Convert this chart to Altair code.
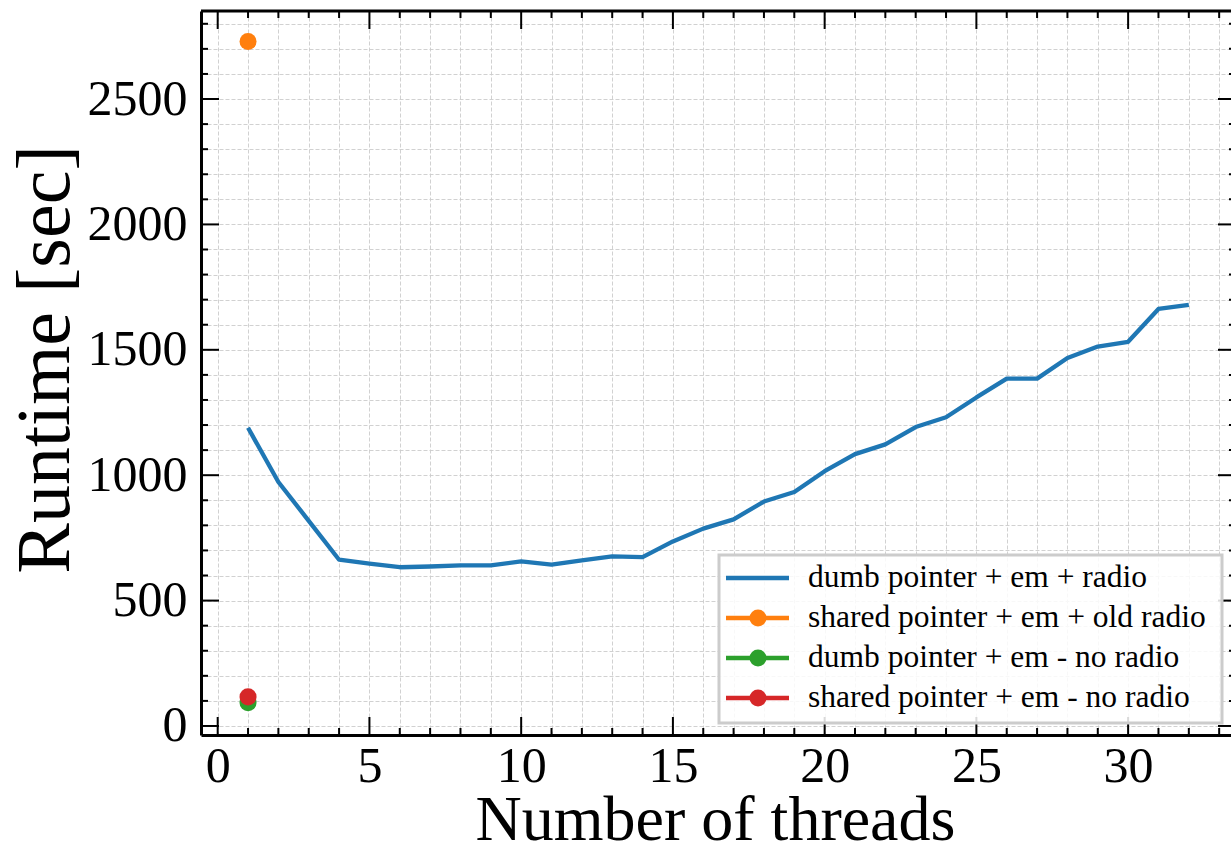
import altair as alt
import pandas as pd

# ---------------- data ----------------
threads = list(range(1, 33))
runtime_dumb_radio = [1189, 973, 818, 663, 647, 633, 636, 640, 640, 656,
                      643, 660, 676, 673, 736, 787, 824, 895, 933, 1016,
                      1084, 1123, 1192, 1231, 1310, 1385, 1385, 1467, 1513, 1532,
                      1663, 1679]

single_threads = [1]
runtime_shared_old_radio = [2729]
runtime_dumb_no_radio = [93]
runtime_shared_no_radio = [116]

series_names = ["dumb pointer + em + radio",
                "shared pointer + em + old radio",
                "dumb pointer + em - no radio",
                "shared pointer + em - no radio"]
series_colors = ["#1f77b4", "#ff7f0e", "#2ca02c", "#d62728"]
series_marker = [False, True, True, True]

x_major = [0, 5, 10, 15, 20, 25, 30]
x_minor = [v for v in range(0, 34) if v % 5 != 0]
y_major = [0, 500, 1000, 1500, 2000, 2500]
y_minor = [v for v in range(0, 2900, 100) if v % 500 != 0]

# ---------------- layout constants ----------------
W, H = 1030, 724
FONT = "Liberation Serif"
x_domain = [-0.55, 33.39]
y_domain = [-36, 2851]

xscale = alt.Scale(domain=x_domain, nice=False, zero=False)
yscale = alt.Scale(domain=y_domain, nice=False, zero=False)

xaxis = alt.Axis(values=list(range(0, 34)),
                 labelExpr="datum.value % 5 === 0 ? datum.label : ''",
                 format="d", grid=True, ticks=False, labelOverlap=False,
                 labelFlush=False, labelPadding=6, labelFontSize=50,
                 title="Number of threads", titleFontSize=64,
                 titleBaseline="alphabetic", titleY=104, titleX=514)
yaxis = alt.Axis(values=list(range(0, 2900, 100)),
                 labelExpr="datum.value % 500 === 0 ? datum.label : ''",
                 format="d", grid=True, ticks=False, labelOverlap=False,
                 labelFlush=False, labelPadding=14, labelFontSize=50,
                 title="Runtime [sec]", titleFontSize=76,
                 titleBaseline="alphabetic", titleX=-133, titleY=348,
                 titleAlign="center", titleAngle=270)

X = alt.X("x:Q", scale=xscale, axis=xaxis)
Y = alt.Y("y:Q", scale=yscale, axis=yaxis)

# ---------------- data layers ----------------
df_line = pd.DataFrame({"x": threads, "y": runtime_dumb_radio})
line = alt.Chart(df_line).mark_line(color=series_colors[0], strokeWidth=4.3,
                                    strokeJoin="round").encode(x=X, y=Y)

def point_layer(xs, ys, color):
    d = pd.DataFrame({"x": xs, "y": ys})
    return alt.Chart(d).mark_circle(color=color, size=290, opacity=1).encode(x=X, y=Y)

p_orange = point_layer(single_threads, runtime_shared_old_radio, series_colors[1])
p_green = point_layer(single_threads, runtime_dumb_no_radio, series_colors[2])
p_red = point_layer(single_threads, runtime_shared_no_radio, series_colors[3])

# ---------------- inward ticks and spines ----------------
def xticks(vals, length):
    d = pd.DataFrame({"x": vals})
    bottom = alt.Chart(d).mark_rule(color="black", strokeWidth=2).encode(
        x=X, y=alt.value(H - length), y2=alt.value(H))
    top = alt.Chart(d).mark_rule(color="black", strokeWidth=2).encode(
        x=X, y=alt.value(0), y2=alt.value(length))
    return [bottom, top]

def yticks(vals, length):
    d = pd.DataFrame({"y": vals})
    left = alt.Chart(d).mark_rule(color="black", strokeWidth=2).encode(
        y=Y, x=alt.value(0), x2=alt.value(length))
    right = alt.Chart(d).mark_rule(color="black", strokeWidth=2).encode(
        y=Y, x=alt.value(W - length + 5), x2=alt.value(W))
    return [left, right]

tick_layers = xticks(x_major, 18) + xticks(x_minor, 7) + yticks(y_major, 18) + yticks(y_minor, 7)

top_spine = alt.Chart(pd.DataFrame({"a": [0]})).mark_rule(color="black", strokeWidth=3).encode(
    x=alt.value(0), x2=alt.value(W), y=alt.value(0))

# ---------------- legend ----------------
leg_x0, leg_x1, leg_y0, leg_y1 = 518, 1021, 544, 712
row_y = [567, 607, 647, 687]
legend_layers = [
    alt.Chart(pd.DataFrame({"a": [0]})).mark_rect(
        fill="white", fillOpacity=0.85, stroke="#cccccc", strokeWidth=3).encode(
        x=alt.value(leg_x0), x2=alt.value(leg_x1), y=alt.value(leg_y0), y2=alt.value(leg_y1))
]
for name, col, mk, ry in zip(series_names, series_colors, series_marker, row_y):
    d = pd.DataFrame({"label": [name]})
    legend_layers.append(alt.Chart(d).mark_rule(color=col, strokeWidth=4.3).encode(
        x=alt.value(525), x2=alt.value(588), y=alt.value(ry)))
    if mk:
        legend_layers.append(alt.Chart(d).mark_circle(color=col, size=290, opacity=1).encode(
            x=alt.value(557), y=alt.value(ry)))
    legend_layers.append(alt.Chart(d).mark_text(
        align="left", baseline="middle", font=FONT, fontSize=31.5, color="black").encode(
        text="label:N", x=alt.value(607), y=alt.value(ry)))

chart = alt.layer(
    line, p_orange, p_green, p_red, *tick_layers, top_spine, *legend_layers
).properties(
    width=W, height=H,
    autosize=alt.AutoSizeParams(type="none"),
    padding={"left": 201, "top": 11, "right": 0, "bottom": 118},
).configure_view(stroke=None).configure_axis(
    labelFont=FONT, titleFont=FONT, labelColor="black", titleColor="black",
    titleFontWeight="normal", domainColor="black", domainWidth=3,
    gridColor="#cccccc", gridDash=[4, 2], gridWidth=0.9,
)

chart.save("out.html", embed_options={"renderer": "svg", "actions": False})
